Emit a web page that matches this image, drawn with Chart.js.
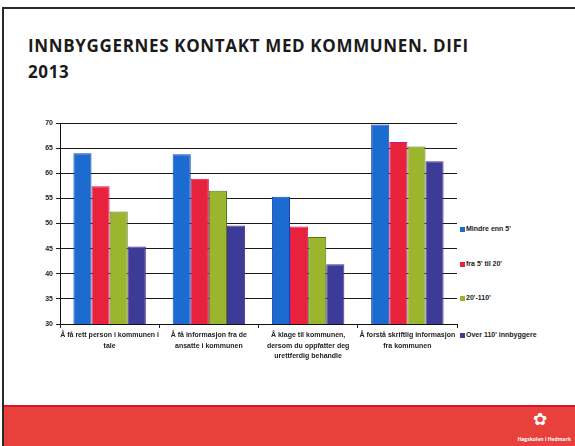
<!DOCTYPE html>
<html>
<head>
<meta charset="utf-8">
<script src="https://cdn.jsdelivr.net/npm/chart.js@4.4.1/dist/chart.umd.min.js"></script>
<style>
  html, body { margin:0; padding:0; width:575px; height:446px; overflow:hidden; background:#fff; }
  body { position:relative; font-family:"Open Sans","Liberation Sans",Arial,sans-serif; }
  #frameTop { position:absolute; left:3px; top:7px; width:572px; height:2px; background:#2a2a2a; }
  #frameLeft { position:absolute; left:2px; top:7px; width:2px; height:439px; background:#2a2a2a; }
  #title { position:absolute; left:28px; top:33px; font-weight:bold; font-size:17px; line-height:26px; color:#1b1b1b; letter-spacing:0.65px; white-space:nowrap; }
  #band { position:absolute; left:4px; top:405px; width:571px; height:41px; background:#e8413c; border-top:2px solid #d8142c; box-sizing:border-box; }
  #logo { position:absolute; right:28px; top:410px; color:#fff; font-size:17px; line-height:17px; }
  #logoText { position:absolute; right:4px; top:436px; color:#fff; font-size:5px; font-weight:bold; white-space:nowrap; }
  #chartWrap { position:absolute; left:0; top:100px; width:460px; height:290px; }
  #legend { position:absolute; left:460px; top:0; }
  .lg { position:absolute; left:0; white-space:nowrap; font-family:"Liberation Sans Narrow","Liberation Sans",Arial,sans-serif; font-weight:bold; font-size:7px; color:#222; line-height:8px; }
  .lg span.sw { display:inline-block; width:5px; height:5px; margin-right:1px; vertical-align:-0.5px; }
</style>
</head>
<body>
<div id="frameTop"></div>
<div id="frameLeft"></div>
<div id="title">INNBYGGERNES KONTAKT MED KOMMUNEN. DIFI<br>2013</div>
<div id="chartWrap"><canvas id="c" width="460" height="290"></canvas></div>
<div id="legend"></div>
<div id="band"></div>
<div id="logo">✿</div>
<div id="logoText">Høgskolen i Hedmark</div>
<script>
const categories = [
  ["Å få rett person i kommunen i", "tale"],
  ["Å få informasjon fra de", "ansatte i kommunen"],
  ["Å klage til kommunen,", "dersom du oppfatter deg", "urettferdig behandle"],
  ["Å forstå skriftlig informasjon", "fra kommunen"]
];
const seriesNames = ["Mindre enn 5'", "fra 5' til 20'", "20'-110'", "Over 110' innbyggere"];
const mindreEnn5 = [64.0, 63.8, 55.3, 69.7];
const fra5til20 = [57.4, 58.9, 49.4, 66.2];
const fra20til110 = [52.4, 56.5, 47.3, 65.3];
const over110 = [45.4, 49.6, 41.9, 62.4];
const yMin = 30, yMax = 70, yStep = 5;

const fills = ["#1c6bd0", "#e8223c", "#9cb52f", "#3c3c98"];
const borders = ["#1446a8", "#d01a6a", "#4e7a1a", "#5a2a90"];
const seriesValues = [mindreEnn5, fra5til20, fra20til110, over110];

const legendTops = [125, 160, 194, 231];
const lg = document.getElementById('legend');
seriesNames.forEach((n, i) => {
  const d = document.createElement('div');
  d.className = 'lg';
  d.style.top = legendTops[i] + 'px';
  d.innerHTML = '<span class="sw" style="background:' + fills[i] + '"></span>' + n;
  lg.appendChild(d);
});
document.getElementById('legend').style.top = '100px';

Chart.defaults.font.family = "'Liberation Sans Narrow','Liberation Sans',Arial,sans-serif";
Chart.defaults.font.weight = 'bold';
Chart.defaults.font.size = 7;
Chart.defaults.color = '#222';

new Chart(document.getElementById('c'), {
  type: 'bar',
  data: {
    labels: categories,
    datasets: seriesNames.map((n, i) => ({
      label: n,
      data: seriesValues[i],
      backgroundColor: fills[i],
      borderColor: borders[i],
      borderWidth: 1,
      categoryPercentage: 0.73,
      barPercentage: 1.0
    }))
  },
  options: {
    responsive: false,
    animation: false,
    devicePixelRatio: 1,
    layout: { padding: { left: 0, right: 3, top: 23, bottom: 0 } },
    plugins: { legend: { display: false }, tooltip: { enabled: false } },
    scales: {
      x: {
        offset: true,
        grid: { display: true, drawOnChartArea: false, drawTicks: true, tickLength: 4, color: '#222', offset: true },
        border: { display: true, color: '#111', width: 1 },
        ticks: { maxRotation: 0, autoSkip: false, padding: 2, font: { size: 7, weight: 'bold', lineHeight: 1.5 }, color: '#222' },
        afterFit: s => { s.height = 66; }
      },
      y: {
        min: yMin, max: yMax,
        grid: { color: '#1a1a1a', lineWidth: 1, tickLength: 4, drawTicks: true },
        border: { display: true, color: '#111', width: 1 },
        ticks: { stepSize: yStep, padding: 3, font: { size: 7, weight: 'bold' }, color: '#222' },
        afterFit: s => { s.width = 60; }
      }
    }
  }
});
</script>
</body>
</html>
